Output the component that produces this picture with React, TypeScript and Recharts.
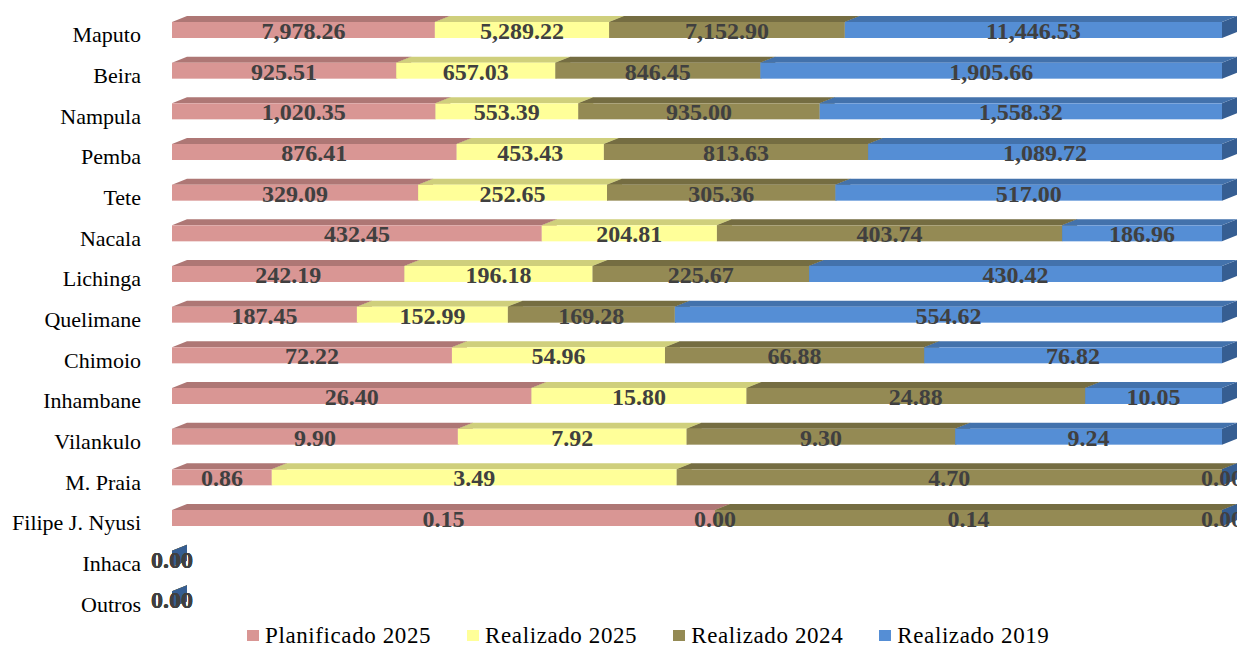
import React from "react";
import { BarChart, Bar, XAxis, YAxis, Legend, LabelList } from "recharts";

const categories = ["Maputo", "Beira", "Nampula", "Pemba", "Tete", "Nacala", "Lichinga", "Quelimane", "Chimoio", "Inhambane", "Vilankulo", "M. Praia", "Filipe J. Nyusi", "Inhaca", "Outros"];
const planificado2025 = [7978.26, 925.51, 1020.35, 876.41, 329.09, 432.45, 242.19, 187.45, 72.22, 26.4, 9.9, 0.86, 0.15, 0, 0];
const realizado2025 = [5289.22, 657.03, 553.39, 453.43, 252.65, 204.81, 196.18, 152.99, 54.96, 15.8, 7.92, 3.49, 0, 0, 0];
const realizado2024 = [7152.9, 846.45, 935.0, 813.63, 305.36, 403.74, 225.67, 169.28, 66.88, 24.88, 9.3, 4.7, 0.14, 0, 0];
const realizado2019 = [11446.53, 1905.66, 1558.32, 1089.72, 517.0, 186.96, 430.42, 554.62, 76.82, 10.05, 9.24, 0, 0, 0, 0];

const seriesNames = ["Planificado 2025", "Realizado 2025", "Realizado 2024", "Realizado 2019"];
const seriesKeys = ["p2025", "r2025", "r2024", "r2019"];

const data = categories.map((name, i) => ({
  name,
  p2025: planificado2025[i],
  r2025: realizado2025[i],
  r2024: realizado2024[i],
  r2019: realizado2019[i],
}));

const FRONT = ["#D99694", "#FFFF99", "#948A54", "#558ED5"];
const TOP = ["#AE7775", "#CFCF7C", "#756D42", "#4372AC"];
const SIDE = ["#9A6866", "#B8B86C", "#655E38", "#365E92"];
const DX = 15;
const DY = 6;
const FONT = "Times New Roman, Liberation Serif, serif";

const makeShape = (idx: number) => (props: any) => {
  const { x, y, width, height } = props;
  if (x == null || y == null || isNaN(x) || isNaN(y)) return <g />;
  const w = Math.max(0, width || 0);
  const h = height;
  const top = `${x},${y} ${x + w},${y} ${x + w + DX},${y - DY} ${x + DX},${y - DY}`;
  const side = `${x + w},${y} ${x + w + DX},${y - DY} ${x + w + DX},${y + h - DY} ${x + w},${y + h}`;
  return (
    <g>
      <polygon points={side} fill={SIDE[idx]} />
      <polygon points={top} fill={TOP[idx]} />
      {w > 0 && <rect x={x} y={y} width={w} height={h} fill={FRONT[idx]} />}
    </g>
  );
};

const fmt = (v: number) =>
  v.toLocaleString("en-US", { minimumFractionDigits: 2, maximumFractionDigits: 2 });

const ValueLabel = (props: any) => {
  const { x, y, width, height, value } = props;
  if (x == null || y == null) return null;
  return (
    <text
      x={x + (width || 0) / 2}
      y={y + height / 2 + 9}
      textAnchor="middle"
      fontFamily={FONT}
      fontWeight="bold"
      fontSize={24}
      fill="#404040"
    >
      {fmt(Number(value))}
    </text>
  );
};

const CatTick = (props: any) => {
  const { x, y, payload } = props;
  return (
    <text x={x - 8} y={y + 12} textAnchor="end" fontFamily={FONT} fontSize={22} fill="#000">
      {payload.value}
    </text>
  );
};

const LegendContent = () => (
  <div
    style={{
      height: 31,
      display: "flex",
      alignItems: "center",
      paddingLeft: 239,
      fontFamily: FONT,
      fontSize: 23,
      letterSpacing: 0.6,
      color: "#000",
      whiteSpace: "nowrap",
    }}
  >
    {seriesNames.map((n, i) => (
      <div key={n} style={{ display: "flex", alignItems: "center", marginRight: 36 }}>
        <div style={{ width: 12, height: 11, background: FRONT[i], marginRight: 6 }} />
        <span>{n}</span>
      </div>
    ))}
  </div>
);

export default function App() {
  return (
    <BarChart
      width={1237}
      height={643}
      data={data}
      layout="vertical"
      stackOffset="expand"
      barCategoryGap={0}
      margin={{ top: 2, right: 23, bottom: 0, left: 0 }}
    >
      <XAxis type="number" hide domain={[0, 1]} />
      <YAxis
        type="category"
        dataKey="name"
        width={164}
        axisLine={false}
        tickLine={false}
        tickSize={0}
        tickMargin={23}
        interval={0}
        tick={<CatTick />}
      />
      <Legend
        verticalAlign="bottom"
        wrapperStyle={{ left: 0, width: 1237 }}
        content={<LegendContent />}
      />
      {seriesKeys.map((k, i) => (
        <Bar
          key={k}
          dataKey={k}
          name={seriesNames[i]}
          stackId="a"
          barSize={16}
          isAnimationActive={false}
          shape={makeShape(i)}
        >
          <LabelList dataKey={k} content={<ValueLabel />} />
        </Bar>
      ))}
    </BarChart>
  );
}
